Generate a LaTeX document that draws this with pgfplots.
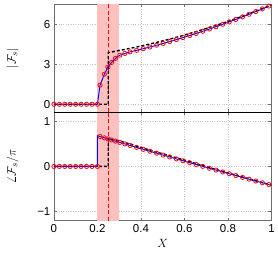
\documentclass[border=0pt]{standalone}
\usepackage{pgfplots}
\pgfplotsset{compat=1.18}
\usepackage{fontspec}
\setmainfont{Liberation Sans}
\definecolor{pinkshade}{RGB}{255,192,192}
\definecolor{axgray}{RGB}{110,110,110}
\pgfplotsset{
  common/.style={
    scale only axis, width=218pt, height=108.5pt,
    xmin=0, xmax=1,
    xtick={0,0.2,0.4,0.6,0.8,1},
    grid=major,
    grid style={dotted, line width=0.6pt, gray!45},
    axis line style={axgray, line width=0.7pt},
    tick style={axgray, line width=0.5pt},
    major tick length=3pt,
    tick align=inside,
    ticklabel style={font=\fontsize{11.5}{13}\selectfont},
    /pgf/number format/assume math mode=true,
    label style={font=\fontsize{13}{15}\selectfont},
    ylabel style={at={(axis description cs:-0.19,0.5)}, anchor=center},
    clip=true,
  },
  bluel/.style={blue, line width=0.9pt, no markers},
  redm/.style={only marks, mark=o, mark size=2.1pt, mark options={red, line width=0.8pt}},
  blackd/.style={black, line width=1.4pt, dash pattern=on 3pt off 2pt, no markers},
}
\begin{document}
\begin{tikzpicture}
\begin{axis}[common, at={(0,108.5pt)}, anchor=south west,
  ymin=-0.6, ymax=7.5, ytick={0,3,6}, xticklabels={},
  ylabel={$|\mathcal{F}_s|$}]
\fill[pinkshade] (axis cs:0.2,-0.6) rectangle (axis cs:0.3,7.5);
\draw[red, line width=0.7pt, dash pattern=on 4pt off 2.5pt] (axis cs:0.25,-0.6) -- (axis cs:0.25,7.5);
\addplot[blackd] coordinates {(0,0) (0.25,0) (0.25,3.86) (0.3,4.02) (0.35,4.18) (0.4,4.35) (0.45,4.54) (0.5,4.74) (0.55,4.95) (0.6,5.18) (0.65,5.42) (0.7,5.67) (0.75,5.93) (0.8,6.20) (0.85,6.49) (0.9,6.79) (0.95,7.10) (1.0,7.43)};
\addplot[redm] coordinates {(0,0) (0.025,0) (0.05,0) (0.075,0) (0.1,0) (0.125,0) (0.15,0) (0.175,0) (0.2,0) (0.212,1.43) (0.232,2.25) (0.248,2.77) (0.265,3.13) (0.283,3.43) (0.303,3.67) (0.326,3.80) (0.35,3.918) (0.380,4.034) (0.411,4.158) (0.441,4.283) (0.472,4.417) (0.502,4.551) (0.532,4.689) (0.563,4.837) (0.593,4.985) (0.624,5.142) (0.654,5.298) (0.684,5.460) (0.715,5.630) (0.745,5.801) (0.776,5.981) (0.806,6.160) (0.836,6.345) (0.867,6.539) (0.897,6.731) (0.928,6.936) (0.958,7.138) (0.988,7.344)};
\addplot[bluel] coordinates {(0,0) (0.025,0) (0.05,0) (0.075,0) (0.1,0) (0.125,0) (0.15,0) (0.175,0) (0.2,0) (0.212,1.43) (0.232,2.25) (0.248,2.77) (0.265,3.13) (0.283,3.43) (0.303,3.67) (0.326,3.80) (0.35,3.918) (0.380,4.034) (0.411,4.158) (0.441,4.283) (0.472,4.417) (0.502,4.551) (0.532,4.689) (0.563,4.837) (0.593,4.985) (0.624,5.142) (0.654,5.298) (0.684,5.460) (0.715,5.630) (0.745,5.801) (0.776,5.981) (0.806,6.160) (0.836,6.345) (0.867,6.539) (0.897,6.731) (0.928,6.936) (0.958,7.138) (0.988,7.344)};
\draw[black, line width=0.8pt] (rel axis cs:0,0) -- (rel axis cs:1,0);
\end{axis}
\begin{axis}[common, at={(0,0)}, anchor=south west,
  ymin=-1.2, ymax=1.2, ytick={-1,0,1}, yticklabels={−1,0,1},
  xticklabels={0,0.2,0.4,0.6,0.8,1},
  xlabel={$X$},
  ylabel={$\angle\mathcal{F}_s/\pi$}]
\fill[pinkshade] (axis cs:0.2,-1.2) rectangle (axis cs:0.3,1.2);
\draw[red, line width=0.7pt, dash pattern=on 4pt off 2.5pt] (axis cs:0.25,-1.2) -- (axis cs:0.25,1.2);
\addplot[blackd] coordinates {(0,0) (0.25,0) (0.25,0.61) (0.3,0.57) (0.4,0.42) (0.5,0.28) (0.6,0.14) (0.7,-0.005) (0.8,-0.144) (0.9,-0.281) (1.0,-0.416)};
\addplot[redm] coordinates {(0,0) (0.025,0) (0.05,0) (0.075,0) (0.1,0) (0.125,0) (0.15,0) (0.175,0) (0.2,0) (0.212,0.663) (0.232,0.634) (0.248,0.611) (0.265,0.586) (0.283,0.560) (0.303,0.532) (0.326,0.499) (0.35,0.465) (0.380,0.422) (0.411,0.379) (0.441,0.336) (0.472,0.293) (0.502,0.251) (0.532,0.210) (0.563,0.167) (0.593,0.125) (0.624,0.083) (0.654,0.042) (0.684,0.002) (0.715,-0.040) (0.745,-0.080) (0.776,-0.122) (0.806,-0.162) (0.836,-0.202) (0.867,-0.243) (0.897,-0.282) (0.928,-0.323) (0.958,-0.362) (0.988,-0.401)};
\addplot[bluel] coordinates {(0,0) (0.025,0) (0.05,0) (0.075,0) (0.1,0) (0.125,0) (0.15,0) (0.175,0) (0.2,0) (0.2,0.68) (0.212,0.663) (0.232,0.634) (0.248,0.611) (0.265,0.586) (0.283,0.560) (0.303,0.532) (0.326,0.499) (0.35,0.465) (0.380,0.422) (0.411,0.379) (0.441,0.336) (0.472,0.293) (0.502,0.251) (0.532,0.210) (0.563,0.167) (0.593,0.125) (0.624,0.083) (0.654,0.042) (0.684,0.002) (0.715,-0.040) (0.745,-0.080) (0.776,-0.122) (0.806,-0.162) (0.836,-0.202) (0.867,-0.243) (0.897,-0.282) (0.928,-0.323) (0.958,-0.362) (0.988,-0.401)};
\draw[black, line width=0.8pt] (rel axis cs:0,1) -- (rel axis cs:1,1);
\end{axis}
\useasboundingbox (-54pt,-34pt) rectangle (224pt,221pt);
\end{tikzpicture}
\end{document}
